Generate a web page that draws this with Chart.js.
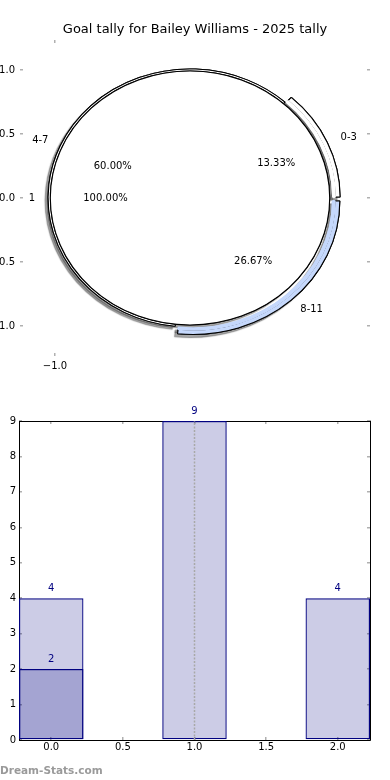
<!DOCTYPE html>
<html>
<head>
<meta charset="utf-8">
<script src="https://cdn.jsdelivr.net/npm/chart.js@4.4.1/dist/chart.umd.min.js"></script>
<style>
  html, body { margin: 0; padding: 0; background: #fff; }
  body { width: 390px; height: 780px; position: relative; overflow: hidden; }
  #pieWrap { position: absolute; left: 0; top: 0; width: 390px; height: 385px; }
  #barWrap { position: absolute; left: 0; top: 390px; width: 390px; height: 390px; }
  #credit { position: absolute; left: 0; top: 763px; font: bold 10.5px "DejaVu Sans", sans-serif; line-height: 14px; color: #9a9a9a; }
</style>
</head>
<body>
<div id="pieWrap"><canvas id="pieChart"></canvas></div>
<div id="barWrap"><canvas id="barChart"></canvas></div>
<div id="credit">Dream-Stats.com</div>
<script>
const chartTitle = "Goal tally for Bailey Williams - 2025 tally";

// pie: goal bands on the outer ring, one group in the middle
const bandLabels = ["0-3", "4-7", "8-11"];
const bandValues = [2, 9, 4];
const groupLabels = ["1"];
const groupValues = [15];
const pieXTicks = [-1];
const pieYTicks = [-1, -0.5, 0, 0.5, 1];

// bar chart
const barX = [0, 1, 2];
const barValues = [4, 9, 4];
const overlayX = [0];
const overlayValues = [2];
const markerX = [1, 1];
const markerY = [0, 9];
const barXTicks = [0, 0.5, 1, 1.5, 2];
const barYTicks = [0, 1, 2, 3, 4, 5, 6, 7, 8, 9];

Chart.defaults.font.family = "'DejaVu Sans', sans-serif";
Chart.defaults.font.size = 10;
Chart.defaults.color = "#000";

// chart.js goes clockwise from 3 o'clock, the original goes the other way
const ringLabels = bandLabels.slice().reverse();
const ringValues = bandValues.slice().reverse();
const ringTotal = ringValues.reduce((a, b) => a + b, 0);

const sliceFill = { "0-3": "#ffffff", "4-7": "#ffffff", "8-11": "#c5d8fc" };
const sliceOffset = { "0-3": 10, "4-7": 0, "8-11": 16 };
const labelExplode = { "0-3": 0.07, "4-7": 0, "8-11": 0.07 };
const pieStretch = 1.1;
const innerR = 127;

const fmtAxis = v => (v < 0 ? "\u2212" : "") + Math.abs(v).toFixed(1);
const setTicks = values => scale => { scale.ticks = values.map(v => ({ value: v })); };
const tickGrid = { drawOnChartArea: false, drawTicks: true, tickLength: -3, color: "#b0b0b0", lineWidth: 1.5, offset: false };

function pieCentre(chart) {
  const y0 = chart.scales.y.getPixelForValue(0);
  return {
    x: chart.scales.x.getPixelForValue(0),
    y: y0,
    unit: y0 - chart.scales.y.getPixelForValue(1)
  };
}

// stretches the pie into the wide ellipse, lays a shadow pass under it and adds the labels
const pieShape = {
  id: "pieShape",
  beforeDatasetsDraw(chart) {
    const ctx = chart.ctx;
    const c = pieCentre(chart);
    const arc = chart.getDatasetMeta(0).data[0];
    ctx.save();
    ctx.translate(c.x, c.y);
    ctx.scale(pieStretch, 1);
    ctx.translate(-arc.x, -arc.y);
    ctx.save();
    ctx.shadowColor = "rgba(60,60,60,0.45)";
    ctx.shadowOffsetX = -3;
    ctx.shadowOffsetY = 3;
    ctx.shadowBlur = 1;
    chart.getSortedVisibleDatasetMetas().slice().reverse().forEach(meta => {
      meta.data.forEach(el => el.draw(ctx));
    });
    ctx.restore();
  },
  afterDatasetsDraw(chart) {
    const ctx = chart.ctx;
    ctx.restore();
    const c = pieCentre(chart);
    ctx.save();
    ctx.font = "10px 'DejaVu Sans', sans-serif";
    ctx.fillStyle = "#000";
    ctx.textBaseline = "middle";
    const place = (mid, dist, text, side) => {
      const cx = Math.cos(mid);
      ctx.textAlign = side ? (cx > 0 ? "left" : "right") : "center";
      ctx.fillText(text, c.x + pieStretch * dist * c.unit * cx, c.y + dist * c.unit * Math.sin(mid));
    };
    chart.getDatasetMeta(0).data.forEach((el, i) => {
      const name = ringLabels[i];
      const mid = (el.startAngle + el.endAngle) / 2;
      const ex = labelExplode[name];
      place(mid, 1.1 + ex, name, true);
      place(mid, 0.6 + ex, (ringValues[i] / ringTotal * 100).toFixed(2) + "%", false);
    });
    const groupTotal = groupValues.reduce((a, b) => a + b, 0);
    chart.getDatasetMeta(2).data.forEach((el, i) => {
      const mid = (el.startAngle + el.endAngle) / 2;
      place(mid, 1.1, groupLabels[i], true);
      place(mid, 0.6, (groupValues[i] / groupTotal * 100).toFixed(2) + "%", false);
    });
    ctx.restore();
  }
};

new Chart(document.getElementById("pieChart"), {
  type: "doughnut",
  data: {
    labels: ringLabels,
    datasets: [
      {
        // outer part of the exploded bands
        data: ringValues,
        weight: 4.5,
        order: 2,
        backgroundColor: ringLabels.map(l => l === "4-7" ? "rgba(0,0,0,0)" : sliceFill[l]),
        borderColor: ringLabels.map(l => l === "4-7" ? "rgba(0,0,0,0)" : "#000"),
        borderWidth: ringLabels.map(l => l === "4-7" ? 0 : 1),
        offset: ringLabels.map(l => sliceOffset[l])
      },
      {
        // thin rim next to the inner pie
        data: ringValues,
        weight: 2,
        order: 1,
        backgroundColor: ringLabels.map(l => sliceFill[l]),
        borderColor: ringLabels.map(l => l === "4-7" ? "#000" : sliceFill[l]),
        borderWidth: ringLabels.map(l => l === "4-7" ? 1 : 1.5),
        offset: ringLabels.map(l => sliceOffset[l])
      },
      {
        data: groupValues,
        weight: innerR,
        order: 0,
        backgroundColor: "#ffffff",
        borderColor: "#000",
        borderWidth: 1,
        borderDash: [2 * Math.PI * innerR - 0.3, 10000]
      }
    ]
  },
  options: {
    responsive: true,
    maintainAspectRatio: false,
    animation: false,
    events: [],
    rotation: 90,
    cutout: 0,
    radius: 133.5,
    plugins: {
      legend: { display: false },
      tooltip: { enabled: false },
      title: {
        display: true,
        text: chartTitle,
        color: "#000",
        font: { size: 13, weight: "normal" },
        padding: { top: 22, bottom: 0 }
      }
    },
    scales: {
      x: {
        type: "linear", position: "bottom", min: -1.259, max: 1.333,
        afterBuildTicks: setTicks(pieXTicks),
        afterFit: s => { s.height = 29; },
        grid: tickGrid, border: { display: false },
        ticks: { padding: 7, maxRotation: 0, callback: fmtAxis }
      },
      x2: {
        type: "linear", position: "top", min: -1.259, max: 1.333,
        afterBuildTicks: setTicks(pieXTicks),
        afterFit: s => { s.height = 2.4; },
        grid: tickGrid, border: { display: false },
        ticks: { display: false }
      },
      y: {
        type: "linear", position: "left", min: -1.234, max: 1.234,
        afterBuildTicks: setTicks(pieYTicks),
        afterFit: s => { s.width = 20; },
        grid: tickGrid, border: { display: false },
        ticks: { padding: 8, callback: fmtAxis }
      },
      y2: {
        type: "linear", position: "right", min: -1.234, max: 1.234,
        afterBuildTicks: setTicks(pieYTicks),
        afterFit: s => { s.width = 20; },
        grid: tickGrid, border: { display: false },
        ticks: { display: false }
      }
    }
  },
  plugins: [pieShape]
});

// value printed on top of each bar
const barValueLabels = {
  id: "barValueLabels",
  afterDatasetsDraw(chart) {
    const ctx = chart.ctx;
    ctx.save();
    ctx.font = "10px 'DejaVu Sans', sans-serif";
    ctx.fillStyle = "#000080";
    ctx.textAlign = "center";
    ctx.textBaseline = "bottom";
    chart.data.datasets.forEach((ds, di) => {
      const meta = chart.getDatasetMeta(di);
      if (meta.type !== "bar") return;
      meta.data.forEach((el, i) => {
        ctx.fillText(String(ds.data[i].y), el.x, el.y - 5);
      });
    });
    ctx.restore();
  }
};

const barStyle = {
  backgroundColor: "rgba(0,0,128,0.2)",
  borderColor: "#000080",
  borderWidth: 1.2,
  borderSkipped: false,
  grouped: false,
  barPercentage: 0.9,
  categoryPercentage: 1
};
const frame = { display: true, color: "#000", width: 1 };

new Chart(document.getElementById("barChart"), {
  type: "bar",
  data: {
    datasets: [
      {
        type: "line",
        data: markerX.map((x, i) => ({ x: x, y: markerY[i] })),
        borderColor: "#a8a8a8",
        borderWidth: 1.5,
        borderDash: [2, 1.5],
        pointRadius: 0,
        fill: false,
        order: 0
      },
      Object.assign({ data: barX.map((x, i) => ({ x: x, y: barValues[i] })), order: 2 }, barStyle),
      Object.assign({ data: overlayX.map((x, i) => ({ x: x, y: overlayValues[i] })), order: 1 }, barStyle)
    ]
  },
  options: {
    responsive: true,
    maintainAspectRatio: false,
    animation: false,
    events: [],
    plugins: { legend: { display: false }, tooltip: { enabled: false } },
    scales: {
      x: {
        type: "linear", position: "bottom", min: -0.225, max: 2.225, offset: false,
        afterBuildTicks: setTicks(barXTicks),
        afterFit: s => { s.height = 40; },
        grid: tickGrid, border: frame,
        ticks: { padding: 4.5, maxRotation: 0, callback: v => v.toFixed(1) }
      },
      x2: {
        type: "linear", position: "top", min: -0.225, max: 2.225, offset: false,
        afterBuildTicks: setTicks(barXTicks),
        afterFit: s => { s.height = 31; },
        grid: tickGrid, border: frame,
        ticks: { display: false }
      },
      y: {
        type: "linear", position: "left", min: 0, max: 9,
        afterBuildTicks: setTicks(barYTicks),
        afterFit: s => { s.width = 19; },
        grid: tickGrid, border: frame,
        ticks: { padding: 6, callback: v => String(v) }
      },
      y2: {
        type: "linear", position: "right", min: 0, max: 9,
        afterBuildTicks: setTicks(barYTicks),
        afterFit: s => { s.width = 20; },
        grid: tickGrid, border: frame,
        ticks: { display: false }
      }
    }
  },
  plugins: [barValueLabels]
});
</script>
</body>
</html>
